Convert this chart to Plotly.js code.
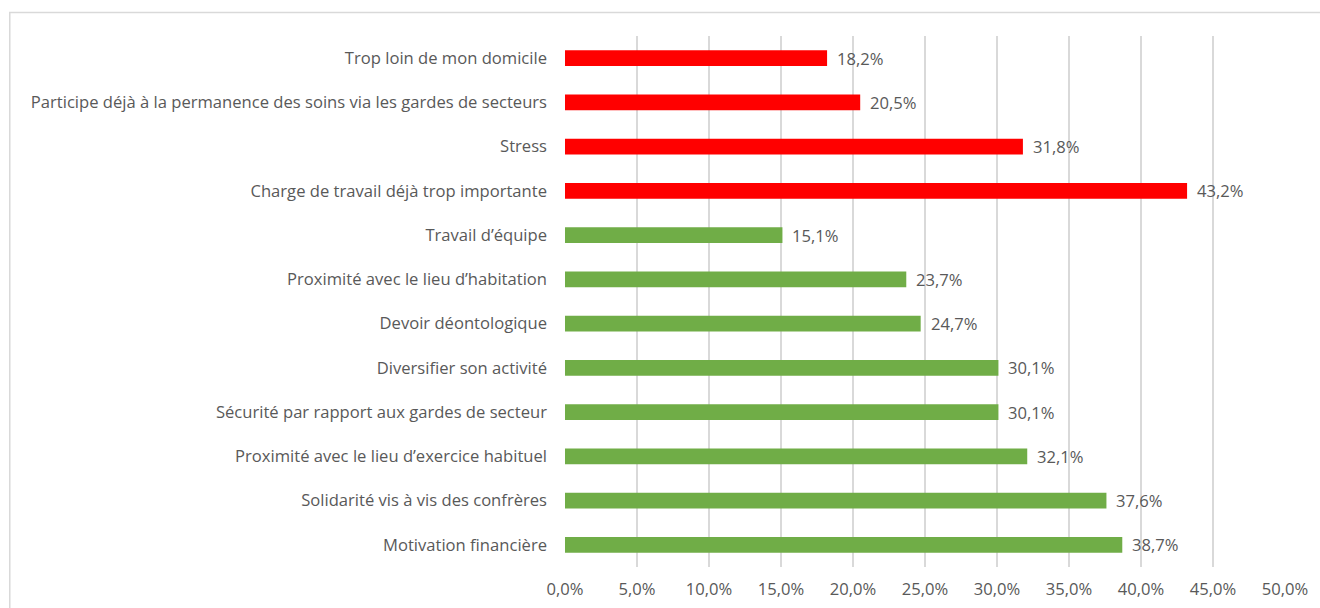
<!DOCTYPE html>
<html>
<head>
<meta charset="utf-8">
<script src="https://cdn.plot.ly/plotly-3.0.1.min.js"></script>
<style>html,body{margin:0;padding:0;background:#fff;}#chart{width:1320px;height:608px;}</style>
</head>
<body>
<div id="chart"></div>
<script>
// Categories from bottom to top
const categories = [
  "Motivation financière",
  "Solidarité vis à vis des confrères",
  "Proximité avec le lieu d’exercice habituel",
  "Sécurité par rapport aux gardes de secteur",
  "Diversifier son activité",
  "Devoir déontologique",
  "Proximité avec le lieu d’habitation",
  "Travail d’équipe",
  "Charge de travail déjà trop importante",
  "Stress",
  "Participe déjà à la permanence des soins via les gardes de secteurs",
  "Trop loin de mon domicile"
];
const values = [38.7, 37.6, 32.1, 30.1, 30.1, 24.7, 23.7, 15.1, 43.2, 31.8, 20.5, 18.2];
const groups = ["motivation","motivation","motivation","motivation","motivation","motivation","motivation","motivation","frein","frein","frein","frein"];
const xTicks = [0, 5, 10, 15, 20, 25, 30, 35, 40, 45, 50];

const groupColors = {motivation: "#70AD47", frein: "#FF0000"};
const fontFam = "'Open Sans', sans-serif";
const textColor = "#595959";
const fs = 16.6;
const fmt = v => v.toFixed(1).replace(".", ",") + "%";

const trace = {
  type: "bar",
  orientation: "h",
  y: categories,
  x: values,
  width: 0.36,
  marker: {color: groups.map(g => groupColors[g]), line: {width: 0}},
  hoverinfo: "none"
};

const annotations = categories.map((c, i) => ({
  x: values[i], y: c, xref: "x", yref: "y",
  text: fmt(values[i]),
  showarrow: false, xanchor: "left", yanchor: "middle", xshift: 8,
  font: {family: fontFam, size: fs, color: textColor}
}));

const layout = {
  width: 1320, height: 608,
  paper_bgcolor: "#fff", plot_bgcolor: "#fff",
  margin: {l: 564.5, r: 34.5, t: 36, b: 41, pad: 0},
  showlegend: false,
  xaxis: {
    range: [0, 50],
    tickmode: "array",
    tickvals: xTicks,
    ticktext: xTicks.map(fmt),
    showgrid: true, gridcolor: "#D9D9D9", gridwidth: 1.3,
    zeroline: false, showline: false,
    ticks: "", ticklabelstandoff: 10,
    tickfont: {family: fontFam, size: fs, color: textColor},
    fixedrange: true
  },
  yaxis: {
    type: "category",
    categoryorder: "array", categoryarray: categories,
    range: [-0.5, categories.length - 0.5],
    showgrid: false, zeroline: false, showline: false,
    ticks: "", ticklabelstandoff: 17,
    tickfont: {family: fontFam, size: fs, color: textColor},
    fixedrange: true
  },
  annotations: annotations,
  shapes: [{
    type: "rect", xref: "paper", yref: "paper",
    x0: (8.5 - 564.5) / (1320 - 564.5 - 34.5), x1: 1.2,
    y0: -0.2, y1: 1 + (36 - 12.5) / (608 - 36 - 41),
    line: {color: "#D9D9D9", width: 1.5}, fillcolor: "rgba(0,0,0,0)", layer: "below"
  }]
};

Plotly.newPlot("chart", [trace], layout, {displayModeBar: false, staticPlot: true});
</script>
</body>
</html>
